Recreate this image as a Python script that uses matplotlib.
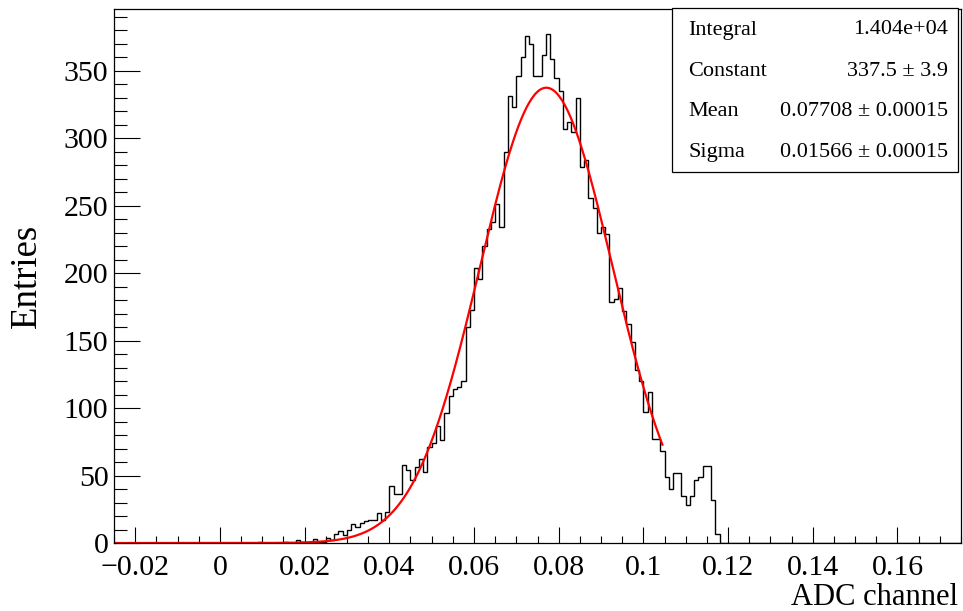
import numpy as np
import matplotlib
matplotlib.use("Agg")
import matplotlib.pyplot as plt
from matplotlib.patches import Rectangle
from matplotlib.ticker import MultipleLocator

plt.rcParams['font.family'] = ['Liberation Serif', 'DejaVu Serif']

# histogram binning (ADC channel), 0.001 wide bins
x_min, x_max = -0.025, 0.175
bin_width = 0.001
first_filled = 0.0  # counts below start at this bin edge

counts = [
    0, 0, 0, 0, 0, 0, 0, 0, 0, 1,
    0, 0, 0, 0, 0, 1, 0, 0, 2, 1,
    0, 1, 3, 1, 1, 4, 2, 7, 9, 6,
    10, 14, 12, 15, 16, 17, 17, 22, 17, 23,
    42, 36, 36, 58, 54, 47, 56, 62, 53, 71,
    74, 87, 76, 96, 109, 114, 116, 120, 160, 173,
    204, 196, 220, 233, 238, 251, 234, 290, 331, 323,
    346, 360, 376, 370, 346, 346, 362, 377, 359, 345,
    335, 307, 312, 305, 330, 279, 284, 256, 248, 230,
    234, 229, 179, 181, 189, 172, 162, 149, 128, 120,
    97, 112, 77, 77, 68, 49, 40, 52, 52, 35,
    28, 35, 47, 49, 57, 57, 32, 7,
]

# gaussian fit result shown in the stats box
fit_const = 337.5
fit_mean = 0.07708
fit_sigma = 0.01566
fit_range = (-0.025, 0.1045)

stat_names = ["Integral", "Constant", "Mean", "Sigma"]
stat_values = ["1.404e+04", "337.5 \u00b1 3.9", "0.07708 \u00b1 0.00015", "0.01566 \u00b1 0.00015"]

xtick_vals = [-0.02, 0, 0.02, 0.04, 0.06, 0.08, 0.1, 0.12, 0.14, 0.16]
xtick_labels = ["\u22120.02", "0", "0.02", "0.04", "0.06", "0.08", "0.1", "0.12", "0.14", "0.16"]
ytick_vals = [0, 50, 100, 150, 200, 250, 300, 350]

# full set of bins over the axis range
n_bins = int(round((x_max - x_min) / bin_width))
edges = x_min + bin_width * np.arange(n_bins + 1)
full = np.zeros(n_bins)
start = int(round((first_filled - x_min) / bin_width))
full[start:start + len(counts)] = counts

fig = plt.figure(figsize=(9.63, 6.11), dpi=100)
ax = fig.add_axes([114 / 963, 1 - 543 / 611, (961 - 114) / 963, (543 - 9) / 611])

ax.stairs(full, edges, color="black", linewidth=1.0, baseline=None)

xf = np.linspace(fit_range[0], fit_range[1], 400)
yf = fit_const * np.exp(-0.5 * ((xf - fit_mean) / fit_sigma) ** 2)
ax.plot(xf, yf, color="#ff0000", linewidth=1.6)

ax.set_xlim(x_min, x_max)
ax.set_ylim(0, max(counts) * 1.05)

ax.set_xticks(xtick_vals)
ax.set_xticklabels(xtick_labels)
ax.set_yticks(ytick_vals)
ax.xaxis.set_minor_locator(MultipleLocator(0.005))
ax.yaxis.set_minor_locator(MultipleLocator(10))
ax.tick_params(axis="x", which="major", direction="in", length=11.3, width=0.8,
               labelsize=21.5, pad=8.5)
ax.tick_params(axis="x", which="minor", direction="in", length=5.3, width=0.8)
ax.tick_params(axis="y", which="major", direction="in", length=18.7, width=0.8,
               labelsize=21.5, pad=4)
ax.tick_params(axis="y", which="minor", direction="in", length=9.1, width=0.8)
for s in ax.spines.values():
    s.set_linewidth(0.9)

fig.text(958 / 963, 6 / 611, "ADC channel", ha="right", va="baseline", fontsize=22)
fig.text(27 / 963, 1 - 276 / 611, "Entries", ha="center", va="center",
         rotation=90, fontsize=26.5)

# stats box
bx0, bx1 = 672 / 963, 958 / 963
by0, by1 = 1 - 172 / 611, 1 - 8 / 611
fig.patches.append(Rectangle((bx0, by0), bx1 - bx0, by1 - by0, transform=fig.transFigure,
                             facecolor="white", edgecolor="black", linewidth=0.9, zorder=5))
row_y = [30, 71, 112, 152]
for name, val, ry in zip(stat_names, stat_values, row_y):
    fig.text(688 / 963, 1 - ry / 611, name, ha="left", va="center", fontsize=16, zorder=6)
    fig.text(948 / 963, 1 - ry / 611, val, ha="right", va="center", fontsize=16, zorder=6)

fig.savefig("out.png", dpi=100)
